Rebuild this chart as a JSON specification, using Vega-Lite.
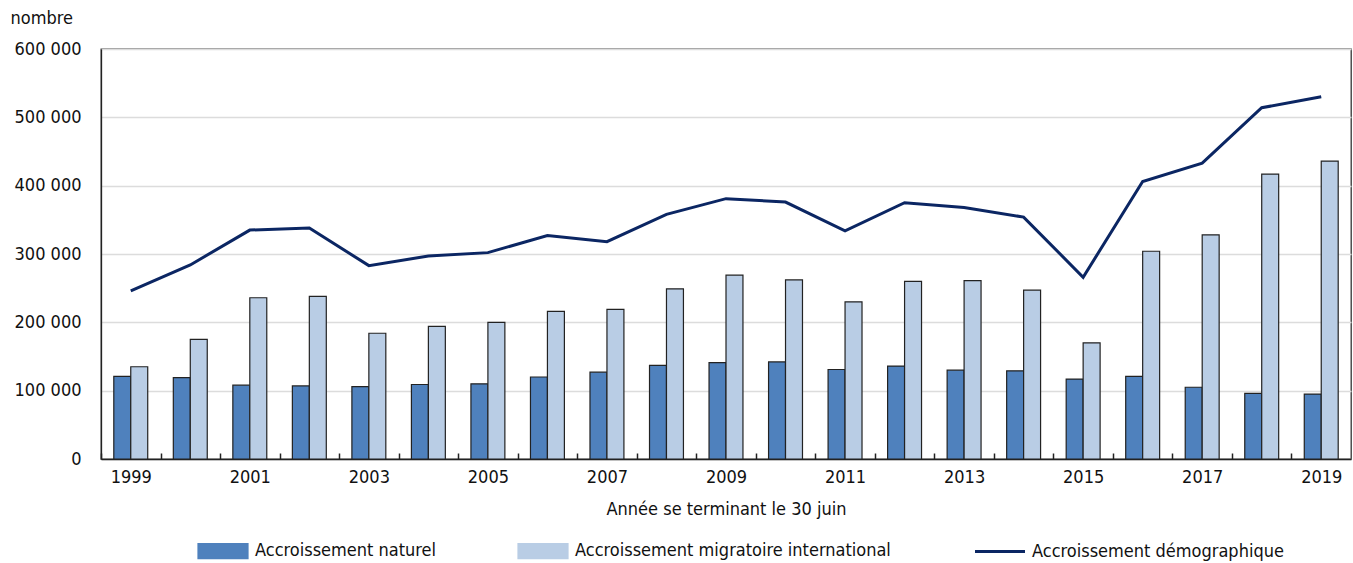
{
  "$schema": "https://vega.github.io/schema/vega-lite/v6.json",
  "width": 1250,
  "height": 410,
  "padding": {"left": 10, "top": 9, "right": 2, "bottom": 0},
  "background": "white",
  "config": {
    "font": "'DejaVu Sans Condensed', 'Liberation Sans', sans-serif",
    "view": {"stroke": "#333333", "strokeWidth": 1.3},
    "axis": {"labelFontSize": 18, "titleFontSize": 18, "titleFontWeight": "normal", "labelColor": "#111111", "titleColor": "#111111"}
  },
  "data": {
    "values": [
      {"annee": 1999, "serie": "Accroissement naturel", "valeur": 121000},
      {"annee": 1999, "serie": "Accroissement migratoire international", "valeur": 135000},
      {"annee": 1999, "serie": "Accroissement démographique", "valeur": 246000},
      {"annee": 2000, "serie": "Accroissement naturel", "valeur": 119000},
      {"annee": 2000, "serie": "Accroissement migratoire international", "valeur": 175000},
      {"annee": 2000, "serie": "Accroissement démographique", "valeur": 284000},
      {"annee": 2001, "serie": "Accroissement naturel", "valeur": 108000},
      {"annee": 2001, "serie": "Accroissement migratoire international", "valeur": 236000},
      {"annee": 2001, "serie": "Accroissement démographique", "valeur": 335000},
      {"annee": 2002, "serie": "Accroissement naturel", "valeur": 107000},
      {"annee": 2002, "serie": "Accroissement migratoire international", "valeur": 238000},
      {"annee": 2002, "serie": "Accroissement démographique", "valeur": 338000},
      {"annee": 2003, "serie": "Accroissement naturel", "valeur": 106000},
      {"annee": 2003, "serie": "Accroissement migratoire international", "valeur": 184000},
      {"annee": 2003, "serie": "Accroissement démographique", "valeur": 283000},
      {"annee": 2004, "serie": "Accroissement naturel", "valeur": 109000},
      {"annee": 2004, "serie": "Accroissement migratoire international", "valeur": 194000},
      {"annee": 2004, "serie": "Accroissement démographique", "valeur": 297000},
      {"annee": 2005, "serie": "Accroissement naturel", "valeur": 110000},
      {"annee": 2005, "serie": "Accroissement migratoire international", "valeur": 200000},
      {"annee": 2005, "serie": "Accroissement démographique", "valeur": 302000},
      {"annee": 2006, "serie": "Accroissement naturel", "valeur": 120000},
      {"annee": 2006, "serie": "Accroissement migratoire international", "valeur": 216000},
      {"annee": 2006, "serie": "Accroissement démographique", "valeur": 327000},
      {"annee": 2007, "serie": "Accroissement naturel", "valeur": 127000},
      {"annee": 2007, "serie": "Accroissement migratoire international", "valeur": 219000},
      {"annee": 2007, "serie": "Accroissement démographique", "valeur": 318000},
      {"annee": 2008, "serie": "Accroissement naturel", "valeur": 137000},
      {"annee": 2008, "serie": "Accroissement migratoire international", "valeur": 249000},
      {"annee": 2008, "serie": "Accroissement démographique", "valeur": 358000},
      {"annee": 2009, "serie": "Accroissement naturel", "valeur": 141000},
      {"annee": 2009, "serie": "Accroissement migratoire international", "valeur": 269000},
      {"annee": 2009, "serie": "Accroissement démographique", "valeur": 381000},
      {"annee": 2010, "serie": "Accroissement naturel", "valeur": 142000},
      {"annee": 2010, "serie": "Accroissement migratoire international", "valeur": 262000},
      {"annee": 2010, "serie": "Accroissement démographique", "valeur": 376000},
      {"annee": 2011, "serie": "Accroissement naturel", "valeur": 131000},
      {"annee": 2011, "serie": "Accroissement migratoire international", "valeur": 230000},
      {"annee": 2011, "serie": "Accroissement démographique", "valeur": 334000},
      {"annee": 2012, "serie": "Accroissement naturel", "valeur": 136000},
      {"annee": 2012, "serie": "Accroissement migratoire international", "valeur": 260000},
      {"annee": 2012, "serie": "Accroissement démographique", "valeur": 375000},
      {"annee": 2013, "serie": "Accroissement naturel", "valeur": 130000},
      {"annee": 2013, "serie": "Accroissement migratoire international", "valeur": 261000},
      {"annee": 2013, "serie": "Accroissement démographique", "valeur": 368000},
      {"annee": 2014, "serie": "Accroissement naturel", "valeur": 129000},
      {"annee": 2014, "serie": "Accroissement migratoire international", "valeur": 247000},
      {"annee": 2014, "serie": "Accroissement démographique", "valeur": 354000},
      {"annee": 2015, "serie": "Accroissement naturel", "valeur": 117000},
      {"annee": 2015, "serie": "Accroissement migratoire international", "valeur": 170000},
      {"annee": 2015, "serie": "Accroissement démographique", "valeur": 266000},
      {"annee": 2016, "serie": "Accroissement naturel", "valeur": 121000},
      {"annee": 2016, "serie": "Accroissement migratoire international", "valeur": 304000},
      {"annee": 2016, "serie": "Accroissement démographique", "valeur": 406000},
      {"annee": 2017, "serie": "Accroissement naturel", "valeur": 105000},
      {"annee": 2017, "serie": "Accroissement migratoire international", "valeur": 328000},
      {"annee": 2017, "serie": "Accroissement démographique", "valeur": 433000},
      {"annee": 2018, "serie": "Accroissement naturel", "valeur": 96000},
      {"annee": 2018, "serie": "Accroissement migratoire international", "valeur": 417000},
      {"annee": 2018, "serie": "Accroissement démographique", "valeur": 514000},
      {"annee": 2019, "serie": "Accroissement naturel", "valeur": 95000},
      {"annee": 2019, "serie": "Accroissement migratoire international", "valeur": 436000},
      {"annee": 2019, "serie": "Accroissement démographique", "valeur": 530000}
    ]
  },
  "encoding": {
    "x": {
      "field": "annee",
      "type": "ordinal",
      "scale": {"paddingInner": 0.43, "paddingOuter": 0.215},
      "axis": {
        "title": "Année se terminant le 30 juin",
        "labelAngle": 0,
        "labelExpr": "datum.value % 2 == 1 ? datum.label : ''",
        "tickOffset": -29.76,
        "labelOffset": 29.76,
        "tickSize": -6,
        "tickColor": "#222222",
        "tickWidth": 1.5,
        "domainColor": "#222222",
        "domainWidth": 1.5,
        "labelPadding": 15,
        "titlePadding": 14
      }
    },
    "y": {
      "field": "valeur",
      "type": "quantitative",
      "scale": {"domain": [0, 600000], "nice": false},
      "axis": {
        "values": [0, 100000, 200000, 300000, 400000, 500000, 600000],
        "labelExpr": "replace(format(datum.value, ','), regexp(',', 'g'), ' ')",
        "ticks": false,
        "labelPadding": 20,
        "domainColor": "#222222",
        "domainWidth": 1.3,
        "gridColor": "#dcdcdc",
        "gridWidth": 1.3,
        "title": "nombre",
        "titleAngle": 0,
        "titleAlign": "left",
        "titleBaseline": "top",
        "titleX": -91,
        "titleY": -40
      }
    },
    "color": {
      "field": "serie",
      "type": "nominal",
      "scale": {
        "domain": ["Accroissement naturel", "Accroissement migratoire international", "Accroissement démographique"],
        "range": ["#4f81bd", "#b9cde5", "#0b2663"]
      },
      "legend": {
        "title": null,
        "orient": "none",
        "direction": "horizontal",
        "legendX": 113,
        "legendY": 493,
        "labelFontSize": 18,
        "labelColor": "#111111",
        "labelOffset": 23,
        "labelLimit": 500,
        "columnPadding": 78,
        "symbolSize": 2500,
        "symbolStrokeColor": "#222222",
        "symbolStrokeWidth": 1.2,
        "encode": {
          "symbols": {
            "update": {
              "shape": {"signal": "datum.value == 'Accroissement démographique' ? 'M-1,0H1' : 'M-1,-0.3H1V0.3H-1Z'"},
              "fill": {"signal": "datum.value == 'Accroissement démographique' ? 'transparent' : scale('color', datum.value)"},
              "stroke": {"signal": "datum.value == 'Accroissement démographique' ? scale('color', datum.value) : '#222222'"},
              "strokeWidth": {"signal": "datum.value == 'Accroissement démographique' ? 3 : 1.2"},
              "opacity": {"value": 1},
              "fillOpacity": {"value": 1},
              "strokeOpacity": {"value": 1}
            }
          }
        }
      }
    }
  },
  "layer": [
    {
      "transform": [{"filter": "datum.serie != 'Accroissement démographique'"}],
      "mark": {"type": "bar", "stroke": "#222222", "strokeWidth": 1.2, "opacity": 1},
      "encoding": {
        "xOffset": {
          "field": "serie",
          "type": "nominal",
          "sort": ["Accroissement naturel", "Accroissement migratoire international"],
          "scale": {"paddingInner": 0, "paddingOuter": 0}
        }
      }
    },
    {
      "transform": [{"filter": "datum.serie == 'Accroissement démographique'"}],
      "mark": {"type": "line", "strokeWidth": 3}
    }
  ]
}
